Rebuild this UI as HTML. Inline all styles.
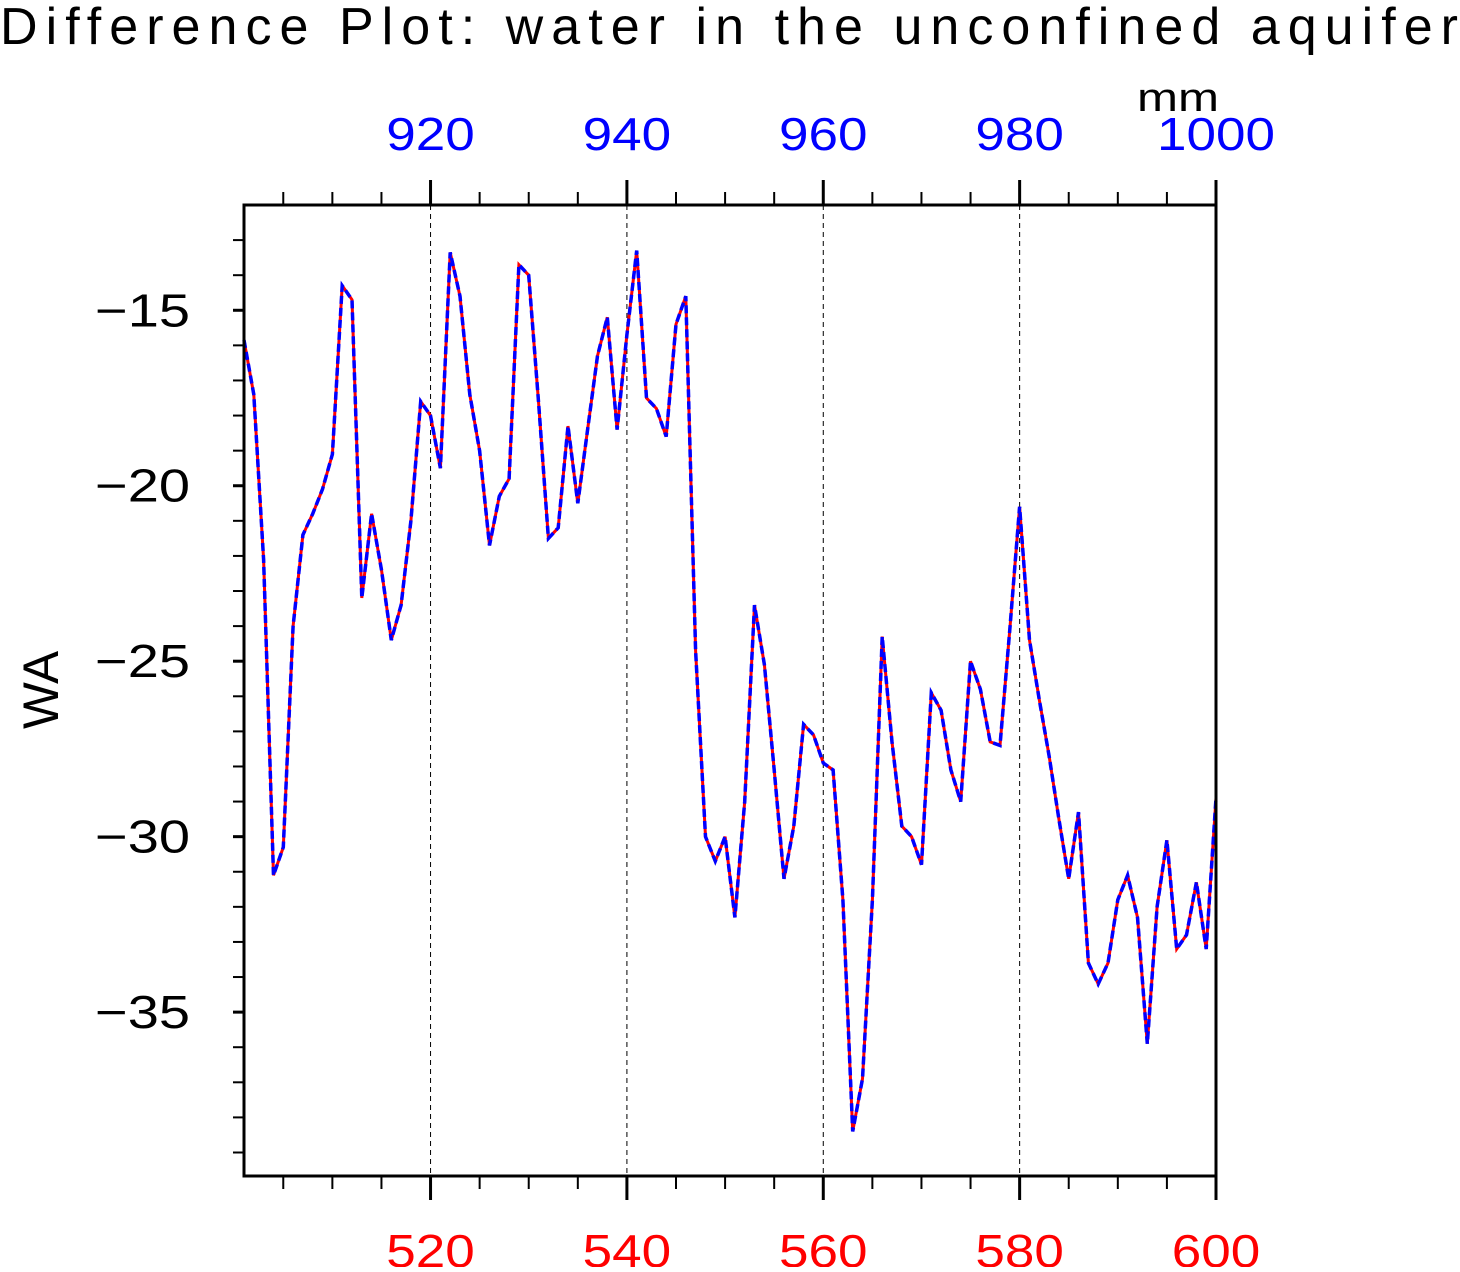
<!DOCTYPE html>
<html><head><meta charset="utf-8"><style>
body{margin:0;background:#fff;}
svg text{font-family:"Liberation Sans",sans-serif;}
</style></head><body>
<svg id="chart" width="1460" height="1267" xmlns="http://www.w3.org/2000/svg">
<text x="0" y="44" font-size="52" textLength="1458" lengthAdjust="spacing">Difference Plot: water in the unconfined aquifer</text>
<text x="1178" y="111" font-size="40" text-anchor="middle" textLength="82" lengthAdjust="spacingAndGlyphs">mm</text>
<text transform="translate(58,690) rotate(-90)" font-size="50" text-anchor="middle" textLength="78" lengthAdjust="spacingAndGlyphs">WA</text>
<g id="grid"></g><g id="axes"></g><g id="series"></g>
<rect x="244" y="205" width="972" height="971" fill="none" stroke="#000" stroke-width="3"/>
</svg>
<script>
const xValues=[501,502,503,504,505,506,507,508,509,510,511,512,513,514,515,516,517,518,519,520,521,522,523,524,525,526,527,528,529,530,531,532,533,534,535,536,537,538,539,540,541,542,543,544,545,546,547,548,549,550,551,552,553,554,555,556,557,558,559,560,561,562,563,564,565,566,567,568,569,570,571,572,573,574,575,576,577,578,579,580,581,582,583,584,585,586,587,588,589,590,591,592,593,594,595,596,597,598,599,600];
const waValues=[-15.85,-17.4,-22.1,-31.1,-30.3,-24,-21.4,-20.8,-20.1,-19.1,-14.3,-14.7,-23.2,-20.8,-22.4,-24.4,-23.4,-21,-17.6,-18,-19.5,-13.35,-14.6,-17.4,-19,-21.7,-20.3,-19.8,-13.7,-14,-17.6,-21.5,-21.2,-18.3,-20.5,-18.4,-16.3,-15.2,-18.4,-15.7,-13.3,-17.5,-17.8,-18.6,-15.4,-14.6,-24.7,-30,-30.7,-30,-32.3,-29,-23.4,-25.1,-28.1,-31.2,-29.7,-26.8,-27.1,-27.9,-28.1,-31.8,-38.4,-36.9,-31.8,-24.3,-27.3,-29.7,-30,-30.8,-25.9,-26.4,-28.1,-29,-25,-25.8,-27.3,-27.4,-24.1,-20.6,-24.4,-26.1,-27.7,-29.5,-31.2,-29.3,-33.6,-34.2,-33.6,-31.8,-31.1,-32.3,-35.9,-32,-30.1,-33.2,-32.8,-31.3,-33.2,-28.9];
const bottomTicks=[520,540,560,580,600];
const topTicks=[920,940,960,980,1000];
const yTicks=[-15,-20,-25,-30,-35];
const NS="http://www.w3.org/2000/svg";
const X0=501,X1=600,Y0=-12.0,Y1=-39.67,L=244,R=1216,T=205,B=1176;
const sx=v=>L+(v-X0)/(X1-X0)*(R-L);
const sy=v=>T+(v-Y0)/(Y1-Y0)*(B-T);
function mk(tag,attrs,parent){const e=document.createElementNS(NS,tag);for(const k in attrs)e.setAttribute(k,attrs[k]);parent.appendChild(e);return e;}
const grid=document.getElementById('grid'),axes=document.getElementById('axes'),series=document.getElementById('series');
const lw=s=>String(s).length*29.5;
bottomTicks.forEach((t,i)=>{
 if(t<X1){const g=mk('line',{x1:sx(t),x2:sx(t),y1:T,y2:B,stroke:'#000','stroke-width':1,'stroke-dasharray':'5,4'},grid);
 
 }
 const a=mk('line',{x1:sx(t),x2:sx(t),y1:B,y2:B+24,stroke:'#000','stroke-width':3},axes);
 
 
 const lb=mk('text',{x:sx(t),y:1267-0,'font-size':46,'text-anchor':'middle',fill:'#f00',textLength:lw(t),lengthAdjust:'spacingAndGlyphs'},axes);lb.textContent=t;
 
 
 const b=mk('line',{x1:sx(t),x2:sx(t),y1:T,y2:T-25,stroke:'#000','stroke-width':3},axes);
 
 
 const lt=mk('text',{x:sx(t),y:150,'font-size':46,'text-anchor':'middle',fill:'#00f',textLength:lw(topTicks[i]),lengthAdjust:'spacingAndGlyphs'},axes);lt.textContent=topTicks[i];
 
 
});
for(let v=505;v<600;v+=5){if(v%20===0)continue;
 const a=mk('line',{x1:sx(v),x2:sx(v),y1:B,y2:B+13,stroke:'#000','stroke-width':2},axes);
 
 const b=mk('line',{x1:sx(v),x2:sx(v),y1:T,y2:T-13,stroke:'#000','stroke-width':2},axes);
 }
for(let v=-13;v>=-39;v--){const major=v%5===0;
 const a=mk('line',{x1:L,x2:L-(major?0:11),y1:sy(v),y2:sy(v),stroke:'#000','stroke-width':2},axes);
 }
yTicks.forEach(t=>{
 const a=mk('line',{x1:L,x2:L-11,y1:sy(t),y2:sy(t),stroke:'#000','stroke-width':3},axes);
 
 
 const lb=mk('text',{x:190,y:sy(t)+16,'font-size':46,'text-anchor':'end',textLength:95,lengthAdjust:'spacingAndGlyphs'},axes);lb.textContent='\u2212'+Math.abs(t);
 
 
});
const pts=xValues.map((x,i)=>sx(x).toFixed(1)+','+sy(waValues[i]).toFixed(1)).join(' ');
const r=mk('polyline',{points:pts,fill:'none',stroke:'#f00','stroke-width':3},series);


const bl=mk('polyline',{points:pts,fill:'none',stroke:'#00f','stroke-width':3.5,'stroke-dasharray':'8,4'},series);


</script>
</body></html>
